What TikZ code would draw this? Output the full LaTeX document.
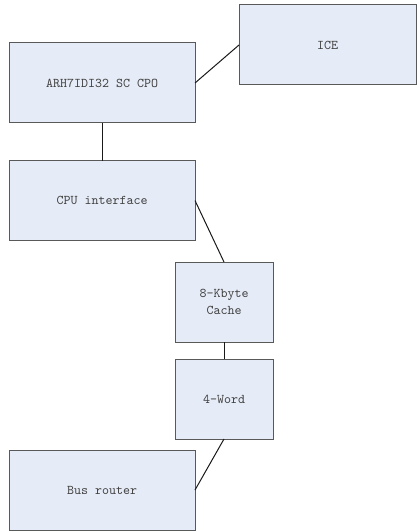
\documentclass[tikz,border=0pt]{standalone}
\usepackage{tikz}
\definecolor{boxfill}{RGB}{230,236,247}

\begin{document}
\begin{tikzpicture}[x=0.75pt,y=-0.75pt]
      \tikzset{
      blk/.style={draw=black!65, fill=boxfill, line width=0.75pt,
        minimum width=#1, minimum height=60pt, inner sep=0pt, outer sep=0pt,
        font=\ttfamily\fontsize{10}{13}\selectfont, text=black!75, align=center},
      blk/.default=139.5pt,
      wire/.style={draw=black!90, line width=0.75pt},
      }
      \useasboundingbox (0,0) rectangle (417,531);

      %top row
      \node[blk] (arm) at (102,83) {ARH7IDI32 SC CPO};
      \node[blk=132.75pt] (ice) at (327.5,45) {ICE};
      %left column
      \node[blk] (cpuif) at (102,200.5) {CPU interface};
      \node[blk] (router) at (102,490) {Bus router};
      %middle column
      \node[blk=73.5pt] (cache) at (224,302) {8-Kbyte\\Cache};
      \node[blk=73.5pt] (word) at (224,399) {4-Word};

      %links
      \draw[wire] (arm.east) -- (ice.west);
      \draw[wire] (arm) -- (cpuif);
      \draw[wire] (cpuif.east) -- (cache.north);
      \draw[wire] (cache) -- (word);
      \draw[wire] (word.south) -- (router.east);
\end{tikzpicture}
\end{document}
